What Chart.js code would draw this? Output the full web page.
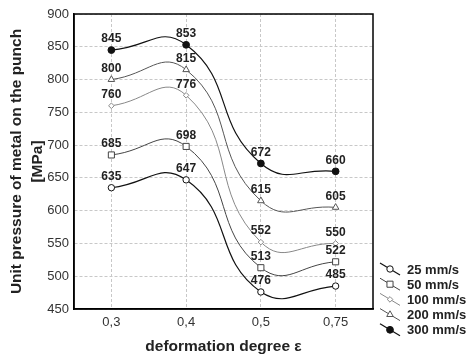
<!DOCTYPE html>
<html>
<head>
<meta charset="utf-8">
<script src="https://cdn.jsdelivr.net/npm/chart.js@4.4.1/dist/chart.umd.min.js"></script>
<style>
html,body{margin:0;padding:0;background:#fff;}
canvas{display:block;}
</style>
</head>
<body>
<canvas id="c" width="467" height="356"></canvas>
<script>
const categories = ['0,3', '0,4', '0,5', '0,75'];
const seriesNames = ['25 mm/s', '50 mm/s', '100 mm/s', '200 mm/s', '300 mm/s'];
const v25 = [635, 647, 476, 485];
const v50 = [685, 698, 513, 522];
const v100 = [760, 776, 552, 550];
const v200 = [800, 815, 615, 605];
const v300 = [845, 853, 672, 660];
const yTicks = [450, 500, 550, 600, 650, 700, 750, 800, 850, 900];

const styles = [
  {color:'#111', style:'circle', r:3.2, fill:'#fff', w:1.2},
  {color:'#444', style:'rect', r:4.3, fill:'#fff', w:1},
  {color:'#888', style:'rectRot', r:2.8, fill:'#fff', w:1},
  {color:'#555', style:'triangle', r:3.8, fill:'#fff', w:1},
  {color:'#111', style:'circle', r:3.4, fill:'#111', w:1.2}
];
const allValues = [v25, v50, v100, v200, v300];

const datasets = allValues.map((vals, i) => ({
  label: seriesNames[i],
  data: vals,
  borderColor: styles[i].color,
  borderWidth: styles[i].w,
  pointStyle: styles[i].style,
  pointRadius: styles[i].r,
  pointBorderColor: styles[i].color,
  pointBackgroundColor: styles[i].fill,
  pointBorderWidth: 1,
  tension: 0.5,
  fill: false
}));

const boxPlugin = {
  id: 'box',
  afterDatasetsDraw(chart) {
    const {ctx, chartArea: a} = chart;
    ctx.save();
    ctx.font = 'bold 12px "Liberation Sans", Arial, sans-serif';
    ctx.fillStyle = '#222';
    ctx.textAlign = 'center';
    ctx.textBaseline = 'middle';
    chart.data.datasets.forEach((ds, i) => {
      const meta = chart.getDatasetMeta(i);
      meta.data.forEach((p, j) => {
        ctx.fillText(String(ds.data[j]), p.x, p.y - 11);
      });
    });
    ctx.strokeStyle = '#000';
    ctx.lineWidth = 1.5;
    ctx.strokeRect(a.left, a.top, a.right - a.left, a.bottom - a.top);
    const x0 = 380, x1 = 400, tx = 407, y0 = 270, dy = 15.2;
    chart.data.datasets.forEach((ds, i) => {
      const y = y0 + i * dy;
      const s = styles[i];
      ctx.strokeStyle = s.color;
      ctx.lineWidth = s.w;
      ctx.beginPath();
      ctx.moveTo(x0, y - 7);
      ctx.lineTo(x1, y + 5);
      ctx.stroke();
      ctx.fillStyle = s.fill;
      ctx.strokeStyle = s.color;
      ctx.lineWidth = 1;
      Chart.helpers.drawPoint(ctx, {pointStyle: s.style, radius: s.r, rotation: 0, borderWidth: 1}, 390, y - 1);
      ctx.fillStyle = '#222';
      ctx.font = 'bold 13px "Liberation Sans", Arial, sans-serif';
      ctx.textAlign = 'left';
      ctx.textBaseline = 'middle';
      ctx.fillText(ds.label, tx, y);
    });
    ctx.restore();
  }
};

new Chart(document.getElementById('c'), {
  type: 'line',
  data: {labels: categories, datasets},
  options: {
    responsive: false,
    animation: false,
    layout: {padding: {left: 0, right: 94, top: 14, bottom: 0}},
    plugins: {legend: {display: false}, tooltip: {enabled: false}},
    scales: {
      x: {
        type: 'category',
        offset: true,
        grid: {offset: false, color: '#c8c8c8', drawTicks: false, lineWidth: 1},
        border: {color: '#000', width: 1.5, dash: [3, 2]},
        ticks: {padding: 6, color: '#333', font: {family: '"Liberation Sans", Arial, sans-serif', size: 13}},
        title: {display: true, text: 'deformation degree ε', color: '#222', padding: {top: 0, bottom: 0},
          font: {family: '"Liberation Sans", Arial, sans-serif', size: 15.5, weight: 'bold', lineHeight: 1.2}},
        afterFit(s) { s.height = 47; }
      },
      y: {
        type: 'linear',
        min: 450, max: 900,
        afterBuildTicks(s) { s.ticks = yTicks.map(v => ({value: v})); },
        grid: {color: '#c8c8c8', drawTicks: false, lineWidth: 1},
        border: {color: '#000', width: 1.5, dash: [3, 2]},
        ticks: {padding: 5, color: '#333', font: {family: '"Liberation Sans", Arial, sans-serif', size: 13}},
        title: {display: true, text: ['Unit pressure of metal on the punch', '[MPa]'], color: '#222', padding: {top: 6.5, bottom: 0},
          font: {family: '"Liberation Sans", Arial, sans-serif', size: 15.5, weight: 'bold', lineHeight: 1.355}},
        afterFit(s) { s.width = 74; }
      }
    }
  },
  plugins: [boxPlugin]
});
</script>
</body>
</html>
